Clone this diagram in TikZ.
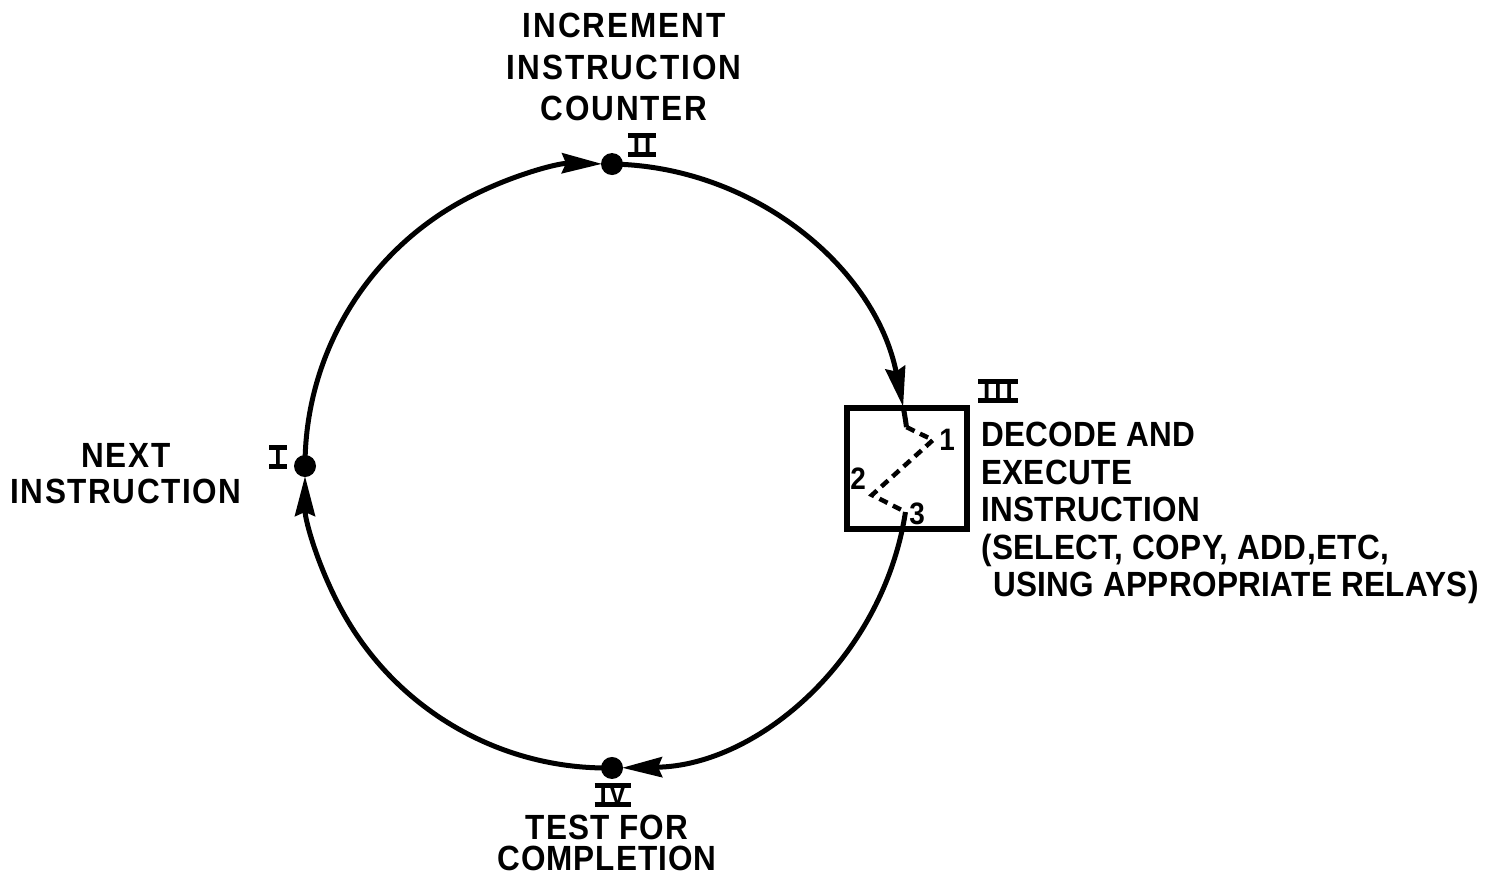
\documentclass[tikz,border=0pt]{standalone}
\usepackage{fontspec}
\setmainfont{Liberation Sans}[FakeStretch=0.9]
\usetikzlibrary{arrows.meta,calc}

% Roman stage numbers with the bars drawn across top and bottom
\newcommand\ringnum[1]{\setbox0=\hbox{\fontsize{29}{29}\selectfont\bfseries #1}%
  \rlap{\kern-5pt\raisebox{-2pt}{\rule{\dimexpr\wd0+10pt}{4.5pt}}}%
  \rlap{\kern-5pt\raisebox{\dimexpr\ht0-2.5pt}{\rule{\dimexpr\wd0+10pt}{4.5pt}}}\box0}

\begin{document}
\begin{tikzpicture}[x=1pt,y=-1pt,
  ring/.style={line width=5pt},
  flow/.style={ring,-{Stealth[length=40pt,width=20pt,inset=4pt]},shorten >=10pt},
  zig/.style={line width=4.5pt,dash pattern=on 9pt off 6pt},
  dot/.style={circle,fill,inner sep=0pt,minimum size=22pt},
  stagebox/.style={draw,line width=5.5pt,fill=white,inner sep=0pt,
    minimum width=120pt,minimum height=121pt},
  lbl/.style={inner sep=0pt},
  digit/.style={inner sep=0pt,font=\fontsize{31}{31}\selectfont\bfseries},
  numeral/.style={inner sep=0pt}]
\useasboundingbox (0,0) rectangle (1494,876);

% centre of the instruction cycle
\coordinate (C) at (607,466);

% stage III: decode and execute
\node[stagebox] (III) at (907,468.5) {};

% stage points on the ring
\node[dot] (I)  at ($(C)+(180:302pt)$) {};
\node[dot] (II) at ($(C)+(89.05:302pt)$) {};
\node[dot] (IV) at ($(C)+(-89.05:302pt)$) {};

% ring segments, clockwise
\draw[flow] (I.center) arc[start angle=180,end angle=89.05,radius=302pt];
\draw[flow,shorten >=0pt] (II.center) arc[start angle=89.05,end angle=11.3,radius=302pt] coordinate (in);
\draw[ring] (in) arc[start angle=11.3,end angle=7.4,radius=302pt] coordinate (z0);

% steps inside the decode box
\coordinate (z1) at (933,440);
\coordinate (z2) at (872,495);
\coordinate (z3) at ($(C)+(-8.76:302pt)$);
\draw[zig] (z0) -- (z1) -- (z2) -- (z3);
\node[digit] (d1) at (947,440) {1};
\node[digit] (d2) at (858,479) {2};
\node[digit] (d3) at (917,514) {3};

\draw[flow] (z3) arc[start angle=-8.76,end angle=-89.05,radius=302pt];
\draw[flow] (IV.center) arc[start angle=-89.05,end angle=-180,radius=302pt];

% stage numbers
\node[numeral] (nI)   at (278,457)  {\ringnum{I}};
\node[numeral] (nII)  at (642,145)  {\ringnum{I\kern4pt I}};
\node[numeral] (nIII) at (998,391)  {\ringnum{I\kern4pt I\kern4pt I}};
\node[numeral] (nIV)  at (613,795)  {\ringnum{I\kern2pt V}};

% stage descriptions
\node[lbl,align=center,anchor=north,
  font=\fontsize{35}{41.5}\selectfont\bfseries\addfontfeature{LetterSpace=5.5}] (tII) at (624,13)
  {INCREMENT\\INSTRUCTION\\COUNTER};
\node[lbl,align=center,anchor=north,
  font=\fontsize{35}{36}\selectfont\bfseries\addfontfeature{LetterSpace=4.5}] (tI) at (126,443)
  {NEXT\\INSTRUCTION};
\node[lbl,align=center,anchor=north,
  font=\fontsize{35}{31}\selectfont\bfseries\addfontfeature{LetterSpace=3}] (tIV) at (607,815)
  {TEST FOR\\COMPLETION};
\node[lbl,align=left,anchor=north west,
  font=\fontsize{35}{37.5}\selectfont\bfseries\addfontfeature{LetterSpace=1}] (tIII) at (981,422)
  {DECODE AND\\EXECUTE\\INSTRUCTION\\(SELECT, COPY, ADD,ETC,\\\hspace*{12pt}USING APPROPRIATE RELAYS)};
\end{tikzpicture}
\end{document}
